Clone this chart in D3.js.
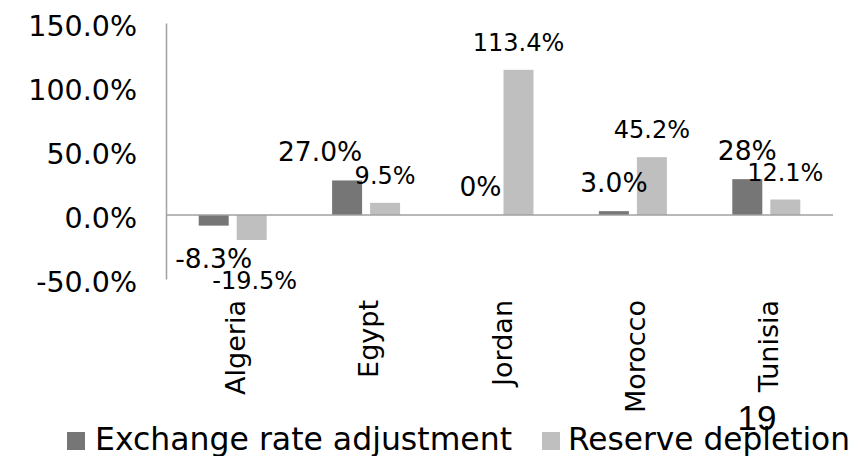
<!DOCTYPE html>
<html>
<head>
<meta charset="utf-8">
<script src="https://cdn.jsdelivr.net/npm/d3@7"></script>
<style>
  html, body { margin: 0; padding: 0; background: #fff; }
  svg { display: block; }
  text { font-family: "DejaVu Sans", Verdana, sans-serif; fill: #000; }
</style>
</head>
<body>
<svg id="chart" width="868" height="456"></svg>
<script>
// Categories and the two series (percent)
const categories = ["Algeria", "Egypt", "Jordan", "Morocco", "Tunisia"];
const seriesNames = ["Exchange rate adjustment", "Reserve depletion"];
const exchangeRate = [-8.3, 27.0, 0, 3.0, 28];
const reserveDepletion = [-19.5, 9.5, 113.4, 45.2, 12.1];
const exchangeLabels = ["-8.3%", "27.0%", "0%", "3.0%", "28%"];
const reserveLabels = ["-19.5%", "9.5%", "113.4%", "45.2%", "12.1%"];
const yTicks = [-50, 0, 50, 100, 150];
const pageNumber = "19";

const colors = { [seriesNames[0]]: "#767676", [seriesNames[1]]: "#bfbfbf" };

const svg = d3.select("#chart");

const x = d3.scaleBand().domain(categories).range([166, 833]).padding(0);
const xInner = d3.scaleBand().domain(seriesNames).range([-34, 34])
  .paddingInner(8 / 38).paddingOuter(0);
const y = d3.scaleLinear().domain([-50, 150]).range([279, 23]);

// Y axis: line and percentage tick labels (plain hyphen for negatives), no tick marks
const pct = d3.formatLocale({ decimal: ".", thousands: ",", grouping: [3],
  currency: ["", ""], minus: "-" }).format(".1f");
const yAxis = d3.axisLeft(y).tickValues(yTicks).tickSize(0).tickPadding(0)
  .tickFormat(d => pct(d) + "%");
const gy = svg.append("g").attr("transform", "translate(166,0)").call(yAxis);
gy.select(".domain").attr("stroke", "#a0a0a0").attr("stroke-width", 1.5);
gy.selectAll(".tick text")
  .attr("x", -29).attr("dy", "0.37em").attr("y", 2)
  .style("font-family", "'DejaVu Sans', Verdana, sans-serif")
  .style("font-size", "28.5px").attr("fill", "#000");

// Rows of bar data
const rows = categories.map((c, i) => ({
  category: c,
  bars: [
    { series: seriesNames[0], value: exchangeRate[i], label: exchangeLabels[i] },
    { series: seriesNames[1], value: reserveDepletion[i], label: reserveLabels[i] }
  ]
}));

const groups = svg.append("g").selectAll("g").data(rows).join("g")
  .attr("transform", d => `translate(${x(d.category) + x.bandwidth() / 2},0)`);

groups.selectAll("rect").data(d => d.bars).join("rect")
  .attr("x", d => xInner(d.series))
  .attr("width", xInner.bandwidth())
  .attr("y", d => y(Math.max(0, d.value)))
  .attr("height", d => Math.abs(y(d.value) - y(0)))
  .attr("fill", d => colors[d.series]);

// Zero line drawn over the bars
svg.append("line")
  .attr("x1", 166).attr("x2", 833)
  .attr("y1", y(0)).attr("y2", y(0))
  .attr("stroke", "#a0a0a0").attr("stroke-width", 1.5);

// Data labels; a couple are nudged off their default spot
const nudges = { "Egypt|Exchange rate adjustment": [-27, 0],
                 "Algeria|Reserve depletion": [3, 7] };
groups.each(function (row) {
  d3.select(this).selectAll("text.val").data(row.bars).join("text")
    .attr("class", "val")
    .attr("text-anchor", "middle")
    .style("font-size", d => d.series === seriesNames[0] ? "26.5px" : "24px")
    .attr("x", d => xInner(d.series) + xInner.bandwidth() / 2 +
      (nudges[row.category + "|" + d.series] || [0, 0])[0])
    .attr("y", d => (d.value < 0 ? y(d.value) + 42 : y(d.value) - 19) +
      (nudges[row.category + "|" + d.series] || [0, 0])[1])
    .text(d => d.label);
});

// Rotated category labels
svg.append("g").selectAll("text").data(categories).join("text")
  .attr("text-anchor", "end")
  .style("font-size", "27px")
  .attr("transform", d => `translate(${x(d) + x.bandwidth() / 2 + 12},300) rotate(-90)`)
  .text(d => d);

// Legend
const legendItems = [
  { name: seriesNames[0], sx: 67, tx: 95, len: 417 },
  { name: seriesNames[1], sx: 542, tx: 568, len: 282 }
];
const lg = svg.append("g");
lg.selectAll("rect").data(legendItems).join("rect")
  .attr("x", d => d.sx).attr("y", 432).attr("width", 18).attr("height", 18)
  .attr("fill", d => colors[d.name]);
lg.selectAll("text").data(legendItems).join("text")
  .attr("x", d => d.tx).attr("y", 450)
  .style("font-size", "31.5px")
  .attr("textLength", d => d.len).attr("lengthAdjust", "spacingAndGlyphs")
  .text(d => d.name);

// Page number
svg.append("text")
  .attr("x", 757).attr("y", 430).attr("text-anchor", "middle")
  .style("font-family", "'Liberation Sans', Arial, sans-serif")
  .style("font-size", "35px")
  .text(pageNumber);
</script>
</body>
</html>
